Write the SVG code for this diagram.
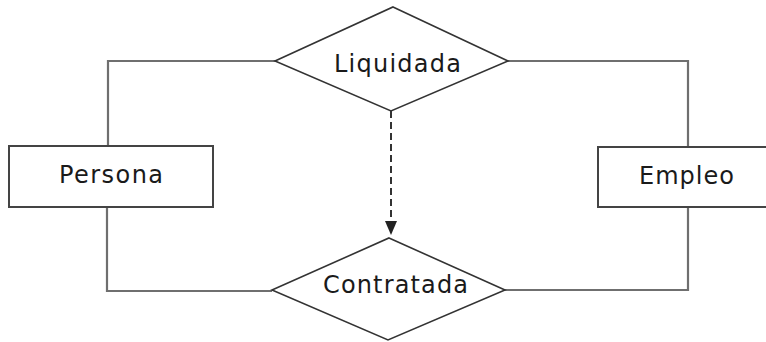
<svg xmlns="http://www.w3.org/2000/svg" width="766" height="342" viewBox="0 0 766 342">
<style>
.lbl{font-family:"DejaVu Sans",sans-serif;font-size:24px;fill:#1a1a1a}
.ent{fill:#fff;stroke:#444;stroke-width:2}
.rel{fill:#fff;stroke:#333;stroke-width:1.6}
.con{fill:none;stroke:#6f6f6f;stroke-width:2.2}
</style>
<rect width="766" height="342" fill="#fff"/>
<g id="connectors">
<polyline class="con" points="275,61 108,61 108,146"/>
<polyline class="con" points="107,207 107,291 272,291"/>
<polyline class="con" points="508,61 688,61 688,147"/>
<polyline class="con" points="688,207 688,290 505,290"/>
<line x1="391" y1="111" x2="391" y2="222" stroke="#333" stroke-width="2" stroke-dasharray="7,4"/>
<polygon points="385,221 397,221 391,235" fill="#222"/>
</g>
<g id="liquidada">
<polygon class="rel" points="393,7 508,61 391,111 275,61"/>
<text class="lbl" x="334" y="72" textLength="127" lengthAdjust="spacing">Liquidada</text>
</g>
<g id="contratada">
<polygon class="rel" points="389,238 505,290 388,340 272,290"/>
<text class="lbl" x="323" y="293" textLength="145" lengthAdjust="spacing">Contratada</text>
</g>
<g id="persona">
<rect class="ent" x="9" y="146" width="204" height="61"/>
<text class="lbl" x="59" y="183" textLength="104" lengthAdjust="spacing">Persona</text>
</g>
<g id="empleo">
<rect class="ent" x="598" y="147" width="180" height="60"/>
<text class="lbl" x="639" y="184" textLength="95" lengthAdjust="spacing">Empleo</text>
</g>
</svg>
